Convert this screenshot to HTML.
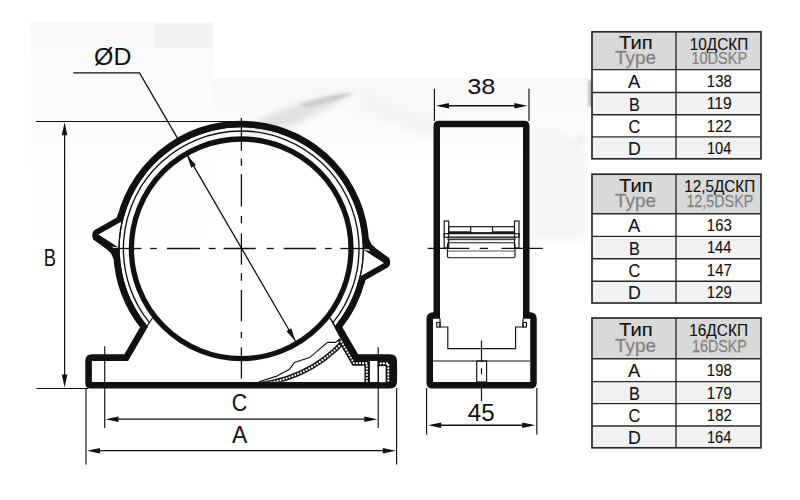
<!DOCTYPE html>
<html><head><meta charset="utf-8"><style>
html,body{margin:0;padding:0;background:#fff;width:800px;height:500px;overflow:hidden}
svg{display:block}
text{font-family:"Liberation Sans",sans-serif}
</style></head><body>
<svg width="800" height="500" viewBox="0 0 800 500">
<defs><filter id="blur3" x="-50%" y="-50%" width="200%" height="200%"><feGaussianBlur stdDeviation="3"/></filter><filter id="blur1" x="-50%" y="-50%" width="200%" height="200%"><feGaussianBlur stdDeviation="1.2"/></filter><filter id="blur6" x="-50%" y="-50%" width="200%" height="200%"><feGaussianBlur stdDeviation="6"/></filter></defs>
<rect x="0" y="0" width="800" height="500" fill="#fff"/>
<defs><linearGradient id="pg" x1="0" y1="0" x2="0" y2="1"><stop offset="0" stop-color="#f9f9f9"/><stop offset="0.2" stop-color="#fbfbfb"/><stop offset="0.7" stop-color="#fefefe"/><stop offset="1" stop-color="#fff"/></linearGradient></defs><rect x="31" y="22" width="182" height="260" fill="url(#pg)"/>
<rect x="155" y="23.5" width="58" height="24" fill="#f2f2f2"/>
<defs><linearGradient id="pg2" x1="0" y1="0" x2="0" y2="1"><stop offset="0" stop-color="#f7f7f7"/><stop offset="0.5" stop-color="#fbfbfb"/><stop offset="1" stop-color="#fff"/></linearGradient></defs><rect x="213" y="78.5" width="377" height="90" fill="url(#pg2)"/>
<path d="M362 92 L440 120 L430 138 L360 110 Z" fill="#f4f4f4" filter="url(#blur6)"/>
<path d="M240 132 Q290 98 354 93 Q325 110 296 124 Q262 138 240 132 Z" fill="#e2e2e2" filter="url(#blur3)"/>
<path d="M300 104 Q330 94 354 93 Q336 102 306 108 Z" fill="#cfcfcf" filter="url(#blur1)"/>
<path d="M569 157 L582 136" stroke="#e6e6e6" stroke-width="7" filter="url(#blur3)"/>
<rect x="588.5" y="80" width="3.5" height="26" fill="#b5b5b5" filter="url(#blur1)"/>
<path d="M531 128 L560 128 L586 150 L586 240 L531 240 Z" fill="#f6f6f6" filter="url(#blur3)"/>
<circle cx="241.2" cy="248.8" r="109.8" fill="none" stroke="#111" stroke-width="5.3"/><path d="M120.57 217.00 A124.75 124.75 0 0 1 365.80 242.60" fill="none" stroke="#111" stroke-width="6.6"/><path d="M116.60 255.00 A124.75 124.75 0 0 0 144.00 327.00 L144.00 327.00 L126.20 357.60 L92.10 357.60 Q88.60 357.60 88.60 361.10 L88.60 383.20 Q88.60 385.20 90.60 385.20 L389.60 385.20 Q393.80 385.20 393.80 381.00 L393.80 361.40 Q393.80 357.60 390.00 357.60 L356.20 357.60 L338.40 327.00  A124.75 124.75 0 0 0 361.83 280.60" fill="none" stroke="#111" stroke-width="6.6" stroke-linejoin="miter" stroke-miterlimit="10"/><path d="M118.31 213.00 L116.80 217.50 L94.30 230.30 L92.60 232.60 L92.20 236.00 L93.20 239.60 L106.00 248.80 L110.80 253.00 L113.61 259.00 L120.13 259.00 A121.5 121.5 0 0 1 125.09 213.00 Z" fill="#111"/><path d="M98.40 234.60 L121.66 221.60 A122.6 122.6 0 0 0 118.61 247.60 Z" fill="#fff"/><path d="M112.20 246.60 L118.60 247.60 L117.00 249.00 L113.60 248.40 Z" fill="#fff"/><path d="M364.09 284.60 L365.60 280.10 L388.10 267.30 L389.80 265.00 L390.20 261.60 L389.20 258.00 L376.40 248.80 L371.60 244.60 L368.79 238.60 L362.27 238.60 A121.5 121.5 0 0 1 357.31 284.60 Z" fill="#111"/><path d="M384.00 263.00 L360.74 276.00 A122.6 122.6 0 0 0 363.79 250.00 Z" fill="#fff"/><path d="M370.20 251.00 L363.80 250.00 L365.40 248.60 L368.80 249.20 Z" fill="#fff"/><path d="M146.86 326.46 A122.2 122.2 0 1 1 335.54 326.46" fill="none" stroke="#111" stroke-width="1.3"/><path d="M149.41 322.63 A117.8 117.8 0 1 1 332.99 322.63" fill="none" stroke="#111" stroke-width="1.35"/><line x1="146.5" y1="327" x2="152.5" y2="318" stroke="#111" stroke-width="1.2"/><line x1="335.9" y1="327" x2="329.9" y2="318" stroke="#111" stroke-width="1.2"/><defs><clipPath id="clipdiag"><path d="M240 290 L310.2 290 L364.6 381.8 L240 381.8 Z"/></clipPath></defs><g clip-path="url(#clipdiag)"><path d="M259.34 384.07 A132.4 132.4 0 0 0 353.96 328.34" fill="none" stroke="#111" stroke-width="4.8" stroke-linejoin="miter"/><path d="M259.34 384.07 A132.4 132.4 0 0 0 353.96 328.34" fill="none" stroke="#fff" stroke-width="2.2" stroke-linecap="round" stroke-dasharray="0 3.1"/></g><path d="M339.80 339 L353.93 363.2 L366.9 363.2 L366.9 382.5" fill="none" stroke="#111" stroke-width="4.9" stroke-linejoin="miter"/><path d="M339.80 339 L353.93 363.2 L366.9 363.2 L366.9 382.5" fill="none" stroke="#fff" stroke-width="2.2" stroke-linecap="round" stroke-dasharray="0 3.1"/><path d="M377.6 363.5 L388.3 363.5 L388.3 382.5" fill="none" stroke="#111" stroke-width="5.8" stroke-linejoin="miter"/><path d="M377.6 363.5 L388.3 363.5 L388.3 382.5" fill="none" stroke="#fff" stroke-width="2.3" stroke-linecap="round" stroke-dasharray="0 3.1"/><rect x="380" y="366.2" width="5.4" height="16" fill="#fff"/><line x1="369.3" y1="360.5" x2="369.3" y2="382" stroke="#111" stroke-width="1.2"/><line x1="378.4" y1="360.5" x2="378.4" y2="382" stroke="#111" stroke-width="1.2"/><line x1="330.2" y1="318" x2="341.40319999999997" y2="339.5" stroke="#111" stroke-width="1.1"/><path d="M259 381.8 L276 376.4 L289.6 369.2 L294.4 362.4 L309.6 357.6 L327.6 342.4 L335.6 342.4 L340 338.6" fill="none" stroke="#111" stroke-width="1.15"/><line x1="241.4" y1="118" x2="241.4" y2="150.8" stroke="#111" stroke-width="1.3"/><line x1="241.4" y1="158.6" x2="241.4" y2="165.8" stroke="#111" stroke-width="1.3"/><line x1="241.4" y1="174.2" x2="241.4" y2="206.4" stroke="#111" stroke-width="1.3"/><line x1="241.4" y1="216" x2="241.4" y2="223.2" stroke="#111" stroke-width="1.3"/><line x1="241.4" y1="233.4" x2="241.4" y2="264.7" stroke="#111" stroke-width="1.3"/><line x1="241.4" y1="273.1" x2="241.4" y2="280.8" stroke="#111" stroke-width="1.3"/><line x1="241.4" y1="289.9" x2="241.4" y2="321.3" stroke="#111" stroke-width="1.3"/><line x1="241.4" y1="331.8" x2="241.4" y2="338.1" stroke="#111" stroke-width="1.3"/><line x1="241.4" y1="347.2" x2="241.4" y2="378.7" stroke="#111" stroke-width="1.3"/><line x1="112" y1="248.5" x2="141.5" y2="248.5" stroke="#111" stroke-width="1.3"/><line x1="150.2" y1="248.5" x2="156.8" y2="248.5" stroke="#111" stroke-width="1.3"/><line x1="166.9" y1="248.5" x2="199.9" y2="248.5" stroke="#111" stroke-width="1.3"/><line x1="208.7" y1="248.5" x2="215.7" y2="248.5" stroke="#111" stroke-width="1.3"/><line x1="223.6" y1="248.5" x2="255.7" y2="248.5" stroke="#111" stroke-width="1.3"/><line x1="266.7" y1="248.5" x2="273.7" y2="248.5" stroke="#111" stroke-width="1.3"/><line x1="283.7" y1="248.5" x2="315.9" y2="248.5" stroke="#111" stroke-width="1.3"/><line x1="325.1" y1="248.5" x2="331.7" y2="248.5" stroke="#111" stroke-width="1.3"/><line x1="340.4" y1="248.5" x2="370" y2="248.5" stroke="#111" stroke-width="1.3"/><path d="M73.2 72.8 L139.5 72.8 L177.6 138.3 M185.6 152.1 L295.4 341" fill="none" stroke="#111" stroke-width="1.3"/><path d="M187.00 155.20 L195.95 165.03 L191.11 167.85 Z" fill="#111"/><path d="M295.40 341.00 L286.45 331.17 L291.29 328.35 Z" fill="#111"/><line x1="36" y1="121.5" x2="241" y2="121.5" stroke="#111" stroke-width="1.2"/><line x1="36.5" y1="388.5" x2="88" y2="388.5" stroke="#111" stroke-width="1.2"/><line x1="64.6" y1="130" x2="64.6" y2="380" stroke="#111" stroke-width="1.2"/><path d="M64.60 122.20 L67.40 135.20 L61.80 135.20 Z" fill="#111"/><path d="M64.60 387.60 L61.80 374.60 L67.40 374.60 Z" fill="#111"/><line x1="104.7" y1="346.2" x2="104.7" y2="428" stroke="#111" stroke-width="1.15"/><line x1="378.2" y1="347" x2="378.2" y2="428" stroke="#111" stroke-width="1.15"/><line x1="86" y1="388" x2="86" y2="464.4" stroke="#111" stroke-width="1.15"/><line x1="396.6" y1="388" x2="396.6" y2="464.4" stroke="#111" stroke-width="1.15"/><line x1="110" y1="419.2" x2="372" y2="419.2" stroke="#111" stroke-width="1.3"/><path d="M105.50 419.20 L118.50 416.40 L118.50 422.00 Z" fill="#111"/><path d="M377.40 419.20 L364.40 422.00 L364.40 416.40 Z" fill="#111"/><line x1="92" y1="450.7" x2="391" y2="450.7" stroke="#111" stroke-width="1.3"/><path d="M87.00 450.70 L100.00 447.90 L100.00 453.50 Z" fill="#111"/><path d="M395.80 450.70 L382.80 453.50 L382.80 447.90 Z" fill="#111"/>
<text transform="translate(94.11,64.60) scale(1.0722,1)" font-size="23.18" fill="#111">ØD</text>
<text transform="translate(43.69,265.80) scale(0.7823,1)" font-size="23.55" fill="#111">B</text>
<text transform="translate(231.73,410.90) scale(0.9186,1)" font-size="23.35" fill="#111">C</text>
<text transform="translate(231.95,443.40) scale(0.9873,1)" font-size="23.26" fill="#111">A</text>
<path d="M432.25 385.25 Q429.75 385.25 429.75 382.75 L429.75 319.10 Q429.75 315.60 433.25 315.60 L436.75 315.60 L436.75 126.30 Q436.75 124.10 438.95 124.10 L524.05 124.10 Q526.25 124.10 526.25 126.30 L526.25 315.60 L530.00 315.60 Q533.50 315.60 533.50 319.10 L533.50 382.75 Q533.50 385.25 531.00 385.25 Z" fill="none" stroke="#111" stroke-width="6.5" stroke-linejoin="miter" stroke-miterlimit="10"/><rect x="436.8" y="322.5" width="3.2" height="4.5" fill="none" stroke="#111" stroke-width="1.15"/><rect x="523" y="322.5" width="3.4" height="4.5" fill="none" stroke="#111" stroke-width="1.15"/><path d="M440 318.5 L440 327 L447.8 327 L447.8 348.6 L515.6 348.6 L515.6 327 L523 327 L523 318.5" fill="none" stroke="#111" stroke-width="1.15"/><line x1="433" y1="361" x2="530" y2="361" stroke="#111" stroke-width="1.15"/><rect x="476.7" y="361" width="9.9" height="21" fill="none" stroke="#111" stroke-width="1.15"/><line x1="481.5" y1="340.6" x2="481.5" y2="362.2" stroke="#111" stroke-width="1.2"/><line x1="481.5" y1="368.2" x2="481.5" y2="374.2" stroke="#111" stroke-width="1.2"/><line x1="481.5" y1="387.4" x2="481.5" y2="401" stroke="#111" stroke-width="1.2"/><rect x="444.2" y="221" width="4.5" height="27" fill="none" stroke="#111" stroke-width="1.15"/><rect x="514.5" y="221" width="4.5" height="27" fill="none" stroke="#111" stroke-width="1.15"/><rect x="448.7" y="226.7" width="65.8" height="6" fill="none" stroke="#111" stroke-width="1.15"/><line x1="470.7" y1="226.7" x2="470.7" y2="232.7" stroke="#111" stroke-width="1.15"/><line x1="492.5" y1="226.7" x2="492.5" y2="232.7" stroke="#111" stroke-width="1.15"/><line x1="448.7" y1="232.2" x2="470.7" y2="232.2" stroke="#111" stroke-width="1.8"/><line x1="492.5" y1="232.2" x2="514.5" y2="232.2" stroke="#111" stroke-width="1.8"/><rect x="444.2" y="233.7" width="74.8" height="3.5" fill="none" stroke="#111" stroke-width="1.15"/><rect x="448" y="237.2" width="67" height="2.5" fill="#999" stroke="#111" stroke-width="0.9"/><rect x="447.5" y="242.7" width="67.5" height="15" rx="1.5" fill="none" stroke="#111" stroke-width="1.15"/><line x1="447.5" y1="251" x2="515" y2="251" stroke="#555" stroke-width="1"/><line x1="427.7" y1="248.4" x2="469.2" y2="248.4" stroke="#111" stroke-width="1.3"/><line x1="479.7" y1="248.4" x2="488" y2="248.4" stroke="#111" stroke-width="1.3"/><line x1="501.5" y1="248.4" x2="542.7" y2="248.4" stroke="#111" stroke-width="1.3"/><line x1="434.4" y1="88.7" x2="434.4" y2="121" stroke="#111" stroke-width="1.15"/><line x1="529" y1="88.7" x2="529" y2="121" stroke="#111" stroke-width="1.15"/><line x1="440" y1="105.8" x2="523" y2="105.8" stroke="#111" stroke-width="1.4"/><path d="M436.00 105.80 L449.00 103.00 L449.00 108.60 Z" fill="#111"/><path d="M527.40 105.80 L514.40 108.60 L514.40 103.00 Z" fill="#111"/><line x1="426.6" y1="388" x2="426.6" y2="434.5" stroke="#111" stroke-width="1.15"/><line x1="536.8" y1="388" x2="536.8" y2="434.5" stroke="#111" stroke-width="1.15"/><line x1="432" y1="425.3" x2="532" y2="425.3" stroke="#111" stroke-width="1.4"/><path d="M428.20 425.30 L441.20 422.50 L441.20 428.10 Z" fill="#111"/><path d="M535.20 425.30 L522.20 428.10 L522.20 422.50 Z" fill="#111"/>
<text transform="translate(467.24,93.65) scale(1.1871,1)" font-size="21.35" fill="#111">38</text>
<text transform="translate(467.87,420.80) scale(1.0381,1)" font-size="23.26" fill="#111">45</text>
<rect x="592" y="31.8" width="169" height="37.8" fill="#d9d9d9"/><rect x="592" y="69.6" width="169" height="22.900000000000006" fill="#fff"/><rect x="592" y="92.5" width="169" height="22.200000000000003" fill="#f2f2f2"/><rect x="592" y="114.7" width="169" height="22.200000000000003" fill="#fff"/><rect x="592" y="136.9" width="169" height="21.900000000000006" fill="#f2f2f2"/><line x1="592" y1="69.6" x2="761" y2="69.6" stroke="#2b2b2b" stroke-width="1.4"/><line x1="592" y1="92.5" x2="761" y2="92.5" stroke="#2b2b2b" stroke-width="1.4"/><line x1="592" y1="114.7" x2="761" y2="114.7" stroke="#2b2b2b" stroke-width="1.4"/><line x1="592" y1="136.9" x2="761" y2="136.9" stroke="#2b2b2b" stroke-width="1.4"/><line x1="676" y1="31.8" x2="676" y2="158.8" stroke="#2b2b2b" stroke-width="1.4"/><rect x="592" y="31.8" width="169" height="127.00000000000001" fill="none" stroke="#2b2b2b" stroke-width="1.7"/>
<text transform="translate(618.95,48.80) scale(1.1322,1)" font-size="17.88" fill="#111" stroke="#111" stroke-width="0.12">Тип</text>
<text transform="translate(615.08,63.80) scale(1.0479,1)" font-size="18.02" fill="#838383" stroke="#838383" stroke-width="0.25">Type</text>
<text transform="translate(689.84,49.50) scale(0.9292,1)" font-size="16.48" fill="#111" stroke="#111" stroke-width="0.12">10ДСКП</text>
<text transform="translate(691.39,64.00) scale(0.9246,1)" font-size="15.76" fill="#838383" stroke="#838383" stroke-width="0.25">10DSKP</text>
<text transform="translate(627.96,87.80) scale(1.0143,1)" font-size="18.17" fill="#111" stroke="#111" stroke-width="0.12">A</text>
<text transform="translate(706.87,86.50) scale(0.8864,1)" font-size="16.76" fill="#111" stroke="#111" stroke-width="0.12">138</text>
<text transform="translate(628.96,110.70) scale(0.9001,1)" font-size="18.17" fill="#111" stroke="#111" stroke-width="0.12">B</text>
<text transform="translate(706.81,109.40) scale(0.9334,1)" font-size="16.76" fill="#111" stroke="#111" stroke-width="0.12">119</text>
<text transform="translate(628.59,132.90) scale(0.9072,1)" font-size="17.91" fill="#111" stroke="#111" stroke-width="0.12">C</text>
<text transform="translate(706.87,131.60) scale(0.8898,1)" font-size="16.76" fill="#111" stroke="#111" stroke-width="0.12">122</text>
<text transform="translate(627.95,155.10) scale(0.9762,1)" font-size="18.17" fill="#111" stroke="#111" stroke-width="0.12">D</text>
<text transform="translate(706.88,153.80) scale(0.8784,1)" font-size="16.76" fill="#111" stroke="#111" stroke-width="0.12">104</text>
<rect x="592" y="174.2" width="169" height="39.60000000000002" fill="#d9d9d9"/><rect x="592" y="213.8" width="169" height="22.599999999999994" fill="#fff"/><rect x="592" y="236.4" width="169" height="22.299999999999983" fill="#f2f2f2"/><rect x="592" y="258.7" width="169" height="22.5" fill="#fff"/><rect x="592" y="281.2" width="169" height="21.80000000000001" fill="#f2f2f2"/><line x1="592" y1="213.8" x2="761" y2="213.8" stroke="#2b2b2b" stroke-width="1.4"/><line x1="592" y1="236.4" x2="761" y2="236.4" stroke="#2b2b2b" stroke-width="1.4"/><line x1="592" y1="258.7" x2="761" y2="258.7" stroke="#2b2b2b" stroke-width="1.4"/><line x1="592" y1="281.2" x2="761" y2="281.2" stroke="#2b2b2b" stroke-width="1.4"/><line x1="676" y1="174.2" x2="676" y2="303.0" stroke="#2b2b2b" stroke-width="1.4"/><rect x="592" y="174.2" width="169" height="128.8" fill="none" stroke="#2b2b2b" stroke-width="1.7"/>
<text transform="translate(618.95,192.40) scale(1.1322,1)" font-size="17.88" fill="#111" stroke="#111" stroke-width="0.12">Тип</text>
<text transform="translate(615.08,207.40) scale(1.0479,1)" font-size="18.02" fill="#838383" stroke="#838383" stroke-width="0.25">Type</text>
<text transform="translate(684.34,191.50) scale(0.9676,1)" font-size="15.76" fill="#111" stroke="#111" stroke-width="0.12">12,5ДСКП</text>
<text transform="translate(686.41,206.50) scale(0.9085,1)" font-size="15.76" fill="#838383" stroke="#838383" stroke-width="0.25">12,5DSKP</text>
<text transform="translate(627.96,232.00) scale(1.0143,1)" font-size="18.17" fill="#111" stroke="#111" stroke-width="0.12">A</text>
<text transform="translate(706.87,230.70) scale(0.8864,1)" font-size="16.76" fill="#111" stroke="#111" stroke-width="0.12">163</text>
<text transform="translate(628.96,254.60) scale(0.9001,1)" font-size="18.17" fill="#111" stroke="#111" stroke-width="0.12">B</text>
<text transform="translate(706.88,253.30) scale(0.8659,1)" font-size="17.01" fill="#111" stroke="#111" stroke-width="0.12">144</text>
<text transform="translate(628.59,276.90) scale(0.9072,1)" font-size="17.91" fill="#111" stroke="#111" stroke-width="0.12">C</text>
<text transform="translate(706.87,275.60) scale(0.8771,1)" font-size="17.01" fill="#111" stroke="#111" stroke-width="0.12">147</text>
<text transform="translate(627.95,299.40) scale(0.9762,1)" font-size="18.17" fill="#111" stroke="#111" stroke-width="0.12">D</text>
<text transform="translate(706.87,298.10) scale(0.8887,1)" font-size="16.76" fill="#111" stroke="#111" stroke-width="0.12">129</text>
<rect x="592" y="318.0" width="169" height="40.80000000000001" fill="#d9d9d9"/><rect x="592" y="358.8" width="169" height="22.80000000000001" fill="#fff"/><rect x="592" y="381.6" width="169" height="22.0" fill="#f2f2f2"/><rect x="592" y="403.6" width="169" height="22.399999999999977" fill="#fff"/><rect x="592" y="426.0" width="169" height="21.80000000000001" fill="#f2f2f2"/><line x1="592" y1="358.8" x2="761" y2="358.8" stroke="#2b2b2b" stroke-width="1.4"/><line x1="592" y1="381.6" x2="761" y2="381.6" stroke="#2b2b2b" stroke-width="1.4"/><line x1="592" y1="403.6" x2="761" y2="403.6" stroke="#2b2b2b" stroke-width="1.4"/><line x1="592" y1="426.0" x2="761" y2="426.0" stroke="#2b2b2b" stroke-width="1.4"/><line x1="676" y1="318.0" x2="676" y2="447.8" stroke="#2b2b2b" stroke-width="1.4"/><rect x="592" y="318.0" width="169" height="129.8" fill="none" stroke="#2b2b2b" stroke-width="1.7"/>
<text transform="translate(618.95,336.40) scale(1.1322,1)" font-size="17.88" fill="#111" stroke="#111" stroke-width="0.12">Тип</text>
<text transform="translate(615.08,352.20) scale(1.0479,1)" font-size="18.02" fill="#838383" stroke="#838383" stroke-width="0.25">Type</text>
<text transform="translate(689.23,335.90) scale(0.9278,1)" font-size="16.62" fill="#111" stroke="#111" stroke-width="0.12">16ДСКП</text>
<text transform="translate(692.11,351.50) scale(0.8756,1)" font-size="16.33" fill="#838383" stroke="#838383" stroke-width="0.25">16DSKP</text>
<text transform="translate(627.96,377.00) scale(1.0143,1)" font-size="18.17" fill="#111" stroke="#111" stroke-width="0.12">A</text>
<text transform="translate(706.87,375.70) scale(0.8864,1)" font-size="16.76" fill="#111" stroke="#111" stroke-width="0.12">198</text>
<text transform="translate(628.96,399.80) scale(0.9001,1)" font-size="18.17" fill="#111" stroke="#111" stroke-width="0.12">B</text>
<text transform="translate(706.87,398.50) scale(0.8887,1)" font-size="16.76" fill="#111" stroke="#111" stroke-width="0.12">179</text>
<text transform="translate(628.59,421.80) scale(0.9072,1)" font-size="17.91" fill="#111" stroke="#111" stroke-width="0.12">C</text>
<text transform="translate(706.87,420.50) scale(0.8898,1)" font-size="16.76" fill="#111" stroke="#111" stroke-width="0.12">182</text>
<text transform="translate(627.95,444.20) scale(0.9762,1)" font-size="18.17" fill="#111" stroke="#111" stroke-width="0.12">D</text>
<text transform="translate(706.88,442.90) scale(0.8784,1)" font-size="16.76" fill="#111" stroke="#111" stroke-width="0.12">164</text>
</svg></body></html>
